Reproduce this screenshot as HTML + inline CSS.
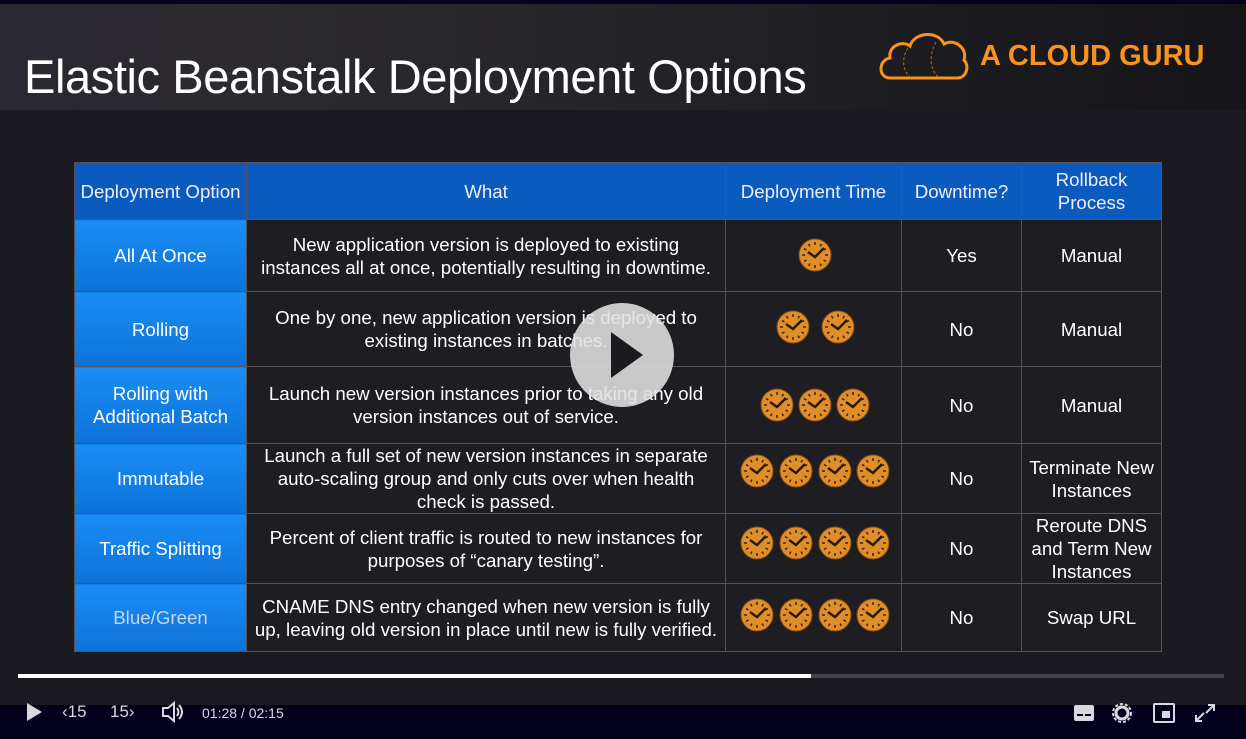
<!DOCTYPE html>
<html><head><meta charset="utf-8"><style>
*{margin:0;padding:0;box-sizing:border-box}
body{width:1246px;height:739px;background:#1b1a21;font-family:"Liberation Sans",sans-serif;position:relative;overflow:hidden}
.top{position:absolute;left:0;top:0;width:1246px;height:4px;background:#05021c}
.hdr{position:absolute;left:0;top:4px;width:1246px;height:106px;background:linear-gradient(90deg,#2a2830 0%,#2c2a2e 20%,#26252a 45%,#1e1d22 70%,#151418 100%)}
.title{position:absolute;left:24px;top:49px;color:#fff;font-size:47px;letter-spacing:-0.4px;white-space:nowrap}
.logo{position:absolute;left:980px;top:40px;color:#f7931e;font-size:29px;font-weight:bold;white-space:nowrap}
table{position:absolute;left:74px;top:162px;border-collapse:collapse;width:1087px;table-layout:fixed}
td,th{border:1px solid #55545a;color:#fff;text-align:center;font-size:18.7px;font-weight:normal;line-height:23px;background:#1e1d22;padding:0}
th{background:#0a5bbd;height:57px;color:#eef}
td.o{background:linear-gradient(#1a8df5,#0d72d8);color:#fff}
td.bg{color:#c8d4e4}
.pb{position:absolute;left:18px;top:674px;width:1206px;height:4px;background:#45444c}
.pf{position:absolute;left:18px;top:674px;width:793px;height:4px;background:#fff}
.bar{position:absolute;left:0;top:705px;width:1246px;height:34px;background:#03001b}
.ctl{position:absolute;color:#d8d8e0;font-size:17px;top:702px}
.play{position:absolute;left:570px;top:303px;width:104px;height:104px;border-radius:50%;background:rgba(225,225,225,0.88)}
.play:after{content:"";position:absolute;left:41px;top:29px;border-left:32px solid #1b1a21;border-top:23px solid transparent;border-bottom:23px solid transparent}
</style></head><body>
<svg width="0" height="0" style="position:absolute"><defs><g id="c"><circle r="16" fill="#e08e2a" stroke="#8a4f10" stroke-width="1"/><g stroke="#3a2410" stroke-width="1.5"><line x1="0" y1="-13" x2="0" y2="-10"/><line x1="0" y1="13" x2="0" y2="10"/><line x1="-13" y1="0" x2="-10" y2="0"/><line x1="13" y1="0" x2="10" y2="0"/><line x1="6.5" y1="-11" x2="5" y2="-8.6"/><line x1="-6.5" y1="-11" x2="-5" y2="-8.6"/><line x1="6.5" y1="11" x2="5" y2="8.6"/><line x1="-6.5" y1="11" x2="-5" y2="8.6"/><line x1="11" y1="6.5" x2="8.6" y2="5"/><line x1="-11" y1="6.5" x2="-8.6" y2="5"/><line x1="11" y1="-6.5" x2="8.6" y2="-5"/><line x1="-11" y1="-6.5" x2="-8.6" y2="-5"/></g><path d="M-7,-3 L0,2 L9,-7" stroke="#2a1a08" stroke-width="2.5" fill="none"/></g></defs></svg>
<div class="top"></div>
<div class="hdr"></div>
<div class="title">Elastic Beanstalk Deployment Options</div>
<svg style="position:absolute;left:878px;top:30px" width="92" height="52"><path d="M12,48 C0,48 0,30 12,28 C10,16 24,10 32,16 C36,2 60,0 66,14 C76,8 90,18 86,30 C92,36 88,48 80,48 Z" fill="none" stroke="#f7931e" stroke-width="3"/><path d="M30,18 C22,30 26,44 34,48 M58,12 C50,26 52,42 62,48" fill="none" stroke="#b86a10" stroke-width="1" stroke-dasharray="3 2"/></svg>
<div class="logo">A CLOUD GURU</div>
<table>
<colgroup><col style="width:172px"><col style="width:479px"><col style="width:176px"><col style="width:120px"><col style="width:140px"></colgroup>
<tr><th>Deployment Option</th><th>What</th><th>Deployment Time</th><th>Downtime?</th><th>Rollback<br>Process</th></tr>
<tr style="height:72px"><td class="o">All At Once</td><td>New application version is deployed to existing<br>instances all at once, potentially resulting in downtime.</td><td></td><td>Yes</td><td>Manual</td></tr>
<tr style="height:75px"><td class="o">Rolling</td><td>One by one, new application version is deployed to<br>existing instances in batches.</td><td></td><td>No</td><td>Manual</td></tr>
<tr style="height:77px"><td class="o">Rolling with<br>Additional Batch</td><td>Launch new version instances prior to taking any old<br>version instances out of service.</td><td></td><td>No</td><td>Manual</td></tr>
<tr style="height:69px"><td class="o">Immutable</td><td>Launch a full set of new version instances in separate<br>auto-scaling group and only cuts over when health<br>check is passed.</td><td></td><td>No</td><td>Terminate New<br>Instances</td></tr>
<tr style="height:69px"><td class="o">Traffic Splitting</td><td>Percent of client traffic is routed to new instances for<br>purposes of “canary testing”.</td><td></td><td>No</td><td>Reroute DNS<br>and Term New<br>Instances</td></tr>
<tr style="height:68px"><td class="o bg">Blue/Green</td><td>CNAME DNS entry changed when new version is fully<br>up, leaving old version in place until new is fully verified.</td><td></td><td>No</td><td>Swap URL</td></tr>
</table>
<svg style="position:absolute;left:0;top:0" width="1246" height="739">
<use href="#c" x="815" y="255"/>
<use href="#c" x="793" y="327"/><use href="#c" x="838" y="327"/>
<use href="#c" x="777" y="405"/><use href="#c" x="815" y="405"/><use href="#c" x="853" y="405"/>
<use href="#c" x="757" y="471"/><use href="#c" x="796" y="471"/><use href="#c" x="835" y="471"/><use href="#c" x="873" y="471"/>
<use href="#c" x="757" y="543"/><use href="#c" x="796" y="543"/><use href="#c" x="835" y="543"/><use href="#c" x="873" y="543"/>
<use href="#c" x="757" y="615"/><use href="#c" x="796" y="615"/><use href="#c" x="835" y="615"/><use href="#c" x="873" y="615"/>
</svg>
<div class="play"></div>
<div class="pb"></div><div class="pf"></div>
<div class="bar"></div>
<svg style="position:absolute;left:26px;top:702px" width="18" height="20"><path d="M1,1 L16,10 L1,19Z" fill="#d8d8e0"/></svg>
<div class="ctl" style="left:62px">‹15</div>
<div class="ctl" style="left:110px">15›</div>
<svg style="position:absolute;left:161px;top:700px" width="24" height="24"><path d="M2,8 H7 L13,3 V21 L7,16 H2Z" fill="none" stroke="#d8d8e0" stroke-width="2"/><path d="M16,8 Q19,12 16,16 M18,5 Q24,12 18,19" fill="none" stroke="#d8d8e0" stroke-width="2"/></svg>
<div class="ctl" style="left:202px;font-size:14px;top:705px">01:28 / 02:15</div>
<svg style="position:absolute;left:1072px;top:702px" width="150" height="22"><rect x="2" y="3" width="20" height="16" rx="2" fill="#d8d8e0"/><rect x="5" y="12" width="6" height="2" fill="#03001b"/><rect x="13" y="12" width="6" height="2" fill="#03001b"/><circle cx="50" cy="11" r="6" fill="none" stroke="#d8d8e0" stroke-width="3"/><circle cx="50" cy="11" r="9" fill="none" stroke="#d8d8e0" stroke-width="2" stroke-dasharray="3 2"/><rect x="82" y="2" width="20" height="18" rx="1" fill="none" stroke="#d8d8e0" stroke-width="2"/><rect x="90" y="9" width="8" height="7" fill="#d8d8e0"/><path d="M124,19 L132,11 M124,13 V19 H130 M142,3 L134,11 M136,3 H142 V9" fill="none" stroke="#d8d8e0" stroke-width="2"/></svg>
</body></html>
